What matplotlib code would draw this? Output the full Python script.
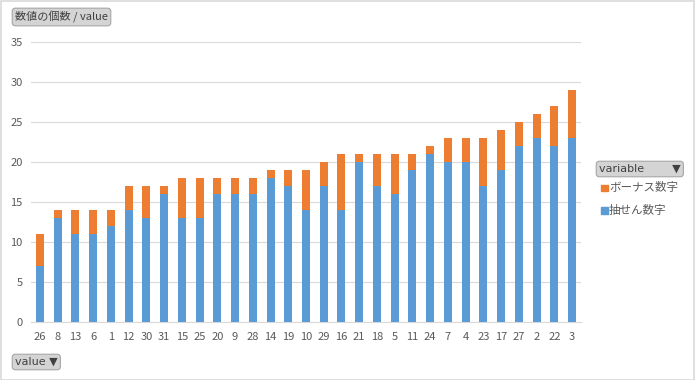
import matplotlib
matplotlib.use("Agg")
import matplotlib.pyplot as plt
import numpy as np

plt.rcParams['font.family'] = ['Noto Sans CJK JP', 'DejaVu Sans']

# category order (sorted by total count)
numbers = ["26", "8", "13", "6", "1", "12", "30", "31", "15", "25", "20", "9", "28",
           "14", "19", "10", "29", "16", "21", "18", "5", "11", "24", "7", "4", "23",
           "17", "27", "2", "22", "3"]
main_counts = [7, 13, 11, 11, 12, 14, 13, 16, 13, 13, 16, 16, 16,
               18, 17, 14, 17, 14, 20, 17, 16, 19, 21, 20, 20, 17,
               19, 22, 23, 22, 23]
bonus_counts = [4, 1, 3, 3, 2, 3, 4, 1, 5, 5, 2, 2, 2,
                1, 2, 5, 3, 7, 1, 4, 5, 2, 1, 3, 3, 6,
                5, 3, 3, 5, 6]
series_names = ["抽せん数字", "ボーナス数字"]

BLUE = "#5B9BD5"
ORANGE = "#ED7D31"
TXT = "#595959"
FS = 8

W, H = 695, 380
fig = plt.figure(figsize=(W / 100, H / 100), dpi=100)
ax = fig.add_axes([31 / W, 1 - 322 / H, 550 / W, (322 - 41.7) / H])

x = np.arange(len(numbers))
ax.bar(x, main_counts, width=0.45, color=BLUE, zorder=3)
ax.bar(x, bonus_counts, width=0.45, bottom=main_counts, color=ORANGE, zorder=3)

ax.set_xlim(-0.5, len(numbers) - 0.5)
ax.set_ylim(0, 35)
ax.set_yticks(range(0, 36, 5))
ax.set_xticks(x)
ax.set_xticklabels(numbers)
ax.tick_params(axis="both", length=0, labelsize=FS, colors=TXT)
ax.tick_params(axis="y", pad=6)
ax.tick_params(axis="x", pad=7)
ax.grid(axis="y", color="#D9D9D9", linewidth=0.8, zorder=0)
for s in ["top", "right", "left"]:
    ax.spines[s].set_visible(False)
ax.spines["bottom"].set_color("#D9D9D9")

# field buttons
btn = dict(boxstyle="round,pad=0.25,rounding_size=0.3", facecolor="#D4D4D4",
           edgecolor="#A6A6A6", linewidth=0.8)
fig.text(15 / W, 1 - 17 / H, "数値の個数 / value", fontsize=FS, color="#404040",
         va="center", ha="left", bbox=btn)
fig.text(15 / W, 1 - 362 / H, "value ▼", fontsize=FS, color="#404040",
         va="center", ha="left", bbox=btn, family=["DejaVu Sans"])
fig.text(599 / W, 1 - 169 / H, "variable        ▼", fontsize=FS, color="#404040",
         va="center", ha="left", bbox=btn, family=["DejaVu Sans"])

# legend (bonus on top, like the reference)
for i, (name, col) in enumerate([(series_names[1], ORANGE), (series_names[0], BLUE)]):
    yy = 1 - (188 + i * 22) / H
    fig.patches.append(plt.Rectangle((601 / W, yy - 3.5 / H), 7 / W, 7 / H,
                                     transform=fig.transFigure, color=col))
    fig.text(609 / W, yy, name, fontsize=8.3, color=TXT, va="center", ha="left")

# outer border
fig.patches.append(plt.Rectangle((0.5 / W, 0.5 / H), 1 - 1.5 / W, 1 - 1.5 / H,
                                 transform=fig.transFigure, fill=False,
                                 edgecolor="#D9D9D9", linewidth=1.2))

fig.savefig("out.png", dpi=100)
